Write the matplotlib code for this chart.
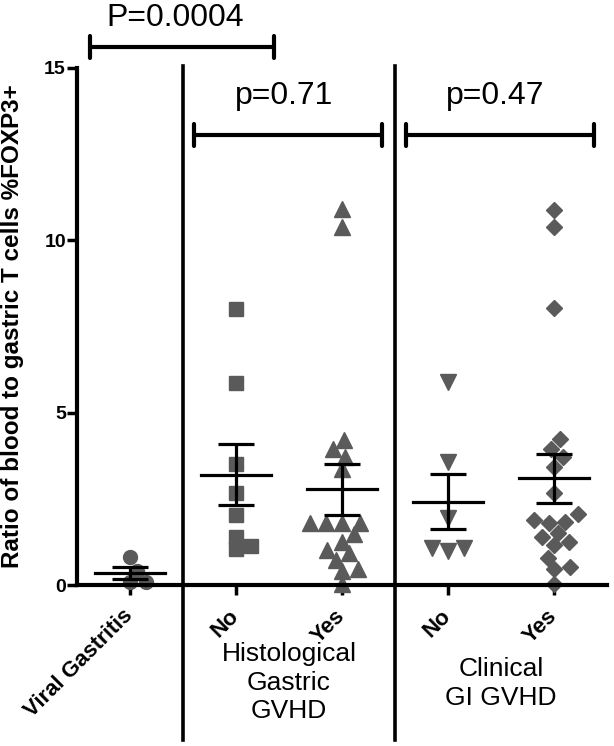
import numpy as np
import matplotlib
matplotlib.use("Agg")
import matplotlib.pyplot as plt
import matplotlib.transforms as mtransforms

plt.rcParams["font.family"] = ["Liberation Sans", "DejaVu Sans"]

# datos
categories = ["Viral Gastritis", "No", "Yes", "No", "Yes"]
viral = [0.81, 0.40, 0.09, 0.09]
hist_no = [8.0, 5.86, 3.5, 2.67, 2.03, 1.39, 1.13, 1.04]
hist_yes = [10.9, 10.4, 4.21, 3.94, 3.71, 3.37, 1.8, 1.8, 1.8, 1.8,
            1.48, 1.25, 1.02, 0.93, 0.73, 0.46, 0.41, 0.03]
clin_no = [5.89, 3.57, 1.94, 1.07, 1.07, 0.99]
clin_yes = [10.88, 10.39, 8.04, 4.23, 3.94, 3.71, 3.42, 2.67, 2.05, 1.89,
            1.83, 1.80, 1.50, 1.39, 1.25, 1.15, 0.78, 0.52, 0.46, 0.02]
groups = [viral, hist_no, hist_yes, clin_no, clin_yes]
markers = ["o", "s", "^", "v", "D"]
msizes = [10, 10, 11, 11, 8]

p_labels = ["P=0.0004", "p=0.71", "p=0.47"]
group_titles = ["Histological\nGastric\nGVHD", "Clinical\nGI GVHD"]

GRAY = "#5a5a5a"


def swarm_offsets(values, ax, xc, dx0, dy0):
    # reparte los puntos en horizontal para que no se pisen (en pixeles)
    values = np.asarray(values, dtype=float)
    tr = ax.transData
    ys = tr.transform(np.column_stack([np.full(len(values), xc), values]))[:, 1]
    ys = ys * dx0 / dy0  # colision eliptica
    d = dx0
    px_x = tr.transform((xc + 1, 0))[0] - tr.transform((xc, 0))[0]
    offs = np.zeros(len(values))
    placed = []
    for i in np.argsort(ys):
        y = ys[i]
        near = [(px, py) for px, py in placed if abs(py - y) < d]
        cands = [0.0]
        for px, py in near:
            dx = np.sqrt(d * d - (py - y) ** 2)
            cands += [px + dx, px - dx]
        cands.sort(key=lambda c: (abs(c), -c))
        best = cands[-1]
        for c in cands:
            if all((c - px) ** 2 + (y - py) ** 2 >= d * d - 1e-6 for px, py in near):
                best = c
                break
        placed.append((best, y))
        offs[i] = best / px_x
    return offs


def main():
    fig = plt.figure(figsize=(6.14, 7.46), dpi=100)
    ax = fig.add_axes([77 / 614, 1 - 585 / 746, 530 / 614, 517 / 746])

    ax.set_xlim(0.5, 5.5)
    ax.set_ylim(0, 15)

    xs = np.arange(1, 6)
    for x, vals, m, ms in zip(xs, groups, markers, msizes):
        off = swarm_offsets(vals, ax, x, 16, 12)
        ax.plot(x + off, vals, linestyle="none", marker=m, ms=ms,
                color=GRAY, mec=GRAY, clip_on=False, zorder=2)
        vals = np.asarray(vals)
        mean = vals.mean()
        sem = vals.std(ddof=1) / np.sqrt(len(vals))
        ax.plot([x - 0.33, x + 0.33], [mean, mean], color="black", lw=2.3, zorder=3)
        ax.errorbar([x], [mean], yerr=[sem], fmt="none", ecolor="black",
                    elinewidth=2.3, capsize=13, capthick=2.3, zorder=3)

    # separadores verticales
    trans = mtransforms.blended_transform_factory(ax.transData, ax.transAxes)
    for xsep in [1.5, 3.5]:
        ax.plot([xsep, xsep], [-0.30, 1.004], color="black", lw=2.6,
                transform=trans, clip_on=False)

    # corchetes de p
    brackets = [(0.62, 2.36, 15.6, 1.43, 16.45),
                (1.60, 3.38, 13.05, 2.45, 14.2),
                (3.60, 5.38, 13.05, 4.45, 14.2)]
    for (x0, x1, yb, xt, yt), lab in zip(brackets, p_labels):
        ax.plot([x0, x1], [yb, yb], color="black", lw=3, clip_on=False,
                solid_capstyle="butt")
        for xe in (x0, x1):
            ax.plot([xe, xe], [yb - 0.32, yb + 0.32], color="black", lw=3,
                    clip_on=False, solid_capstyle="round")
        ax.text(xt, yt, lab, ha="center", va="center", fontsize=23)

    # ejes
    for s in ["top", "right"]:
        ax.spines[s].set_visible(False)
    for s in ["left", "bottom"]:
        ax.spines[s].set_linewidth(3)
    ax.set_yticks([0, 5, 10, 15])
    ax.set_yticklabels(["0", "5", "10", "15"], fontweight="bold", fontsize=14)
    ax.tick_params(axis="y", length=7, width=2.5, pad=1)
    ax.set_xticks(xs)
    ax.set_xticklabels(categories, rotation=45, ha="right", va="center",
                       rotation_mode="anchor", fontsize=16, fontweight="bold")
    ax.tick_params(axis="x", length=7, width=2.5, pad=13)

    ax.set_ylabel("Ratio of blood to gastric T cells %FOXP3+",
                  fontsize=17.5, fontweight="bold")
    ax.yaxis.set_label_coords(-0.10, 0.5)

    ax.text(2.5, -0.11, group_titles[0], transform=trans, ha="center",
            va="top", fontsize=19, linespacing=1.25)
    ax.text(4.5, -0.14, group_titles[1], transform=trans, ha="center",
            va="top", fontsize=19, linespacing=1.25)

    fig.savefig("out.png", dpi=100)


if __name__ == "__main__":
    main()
